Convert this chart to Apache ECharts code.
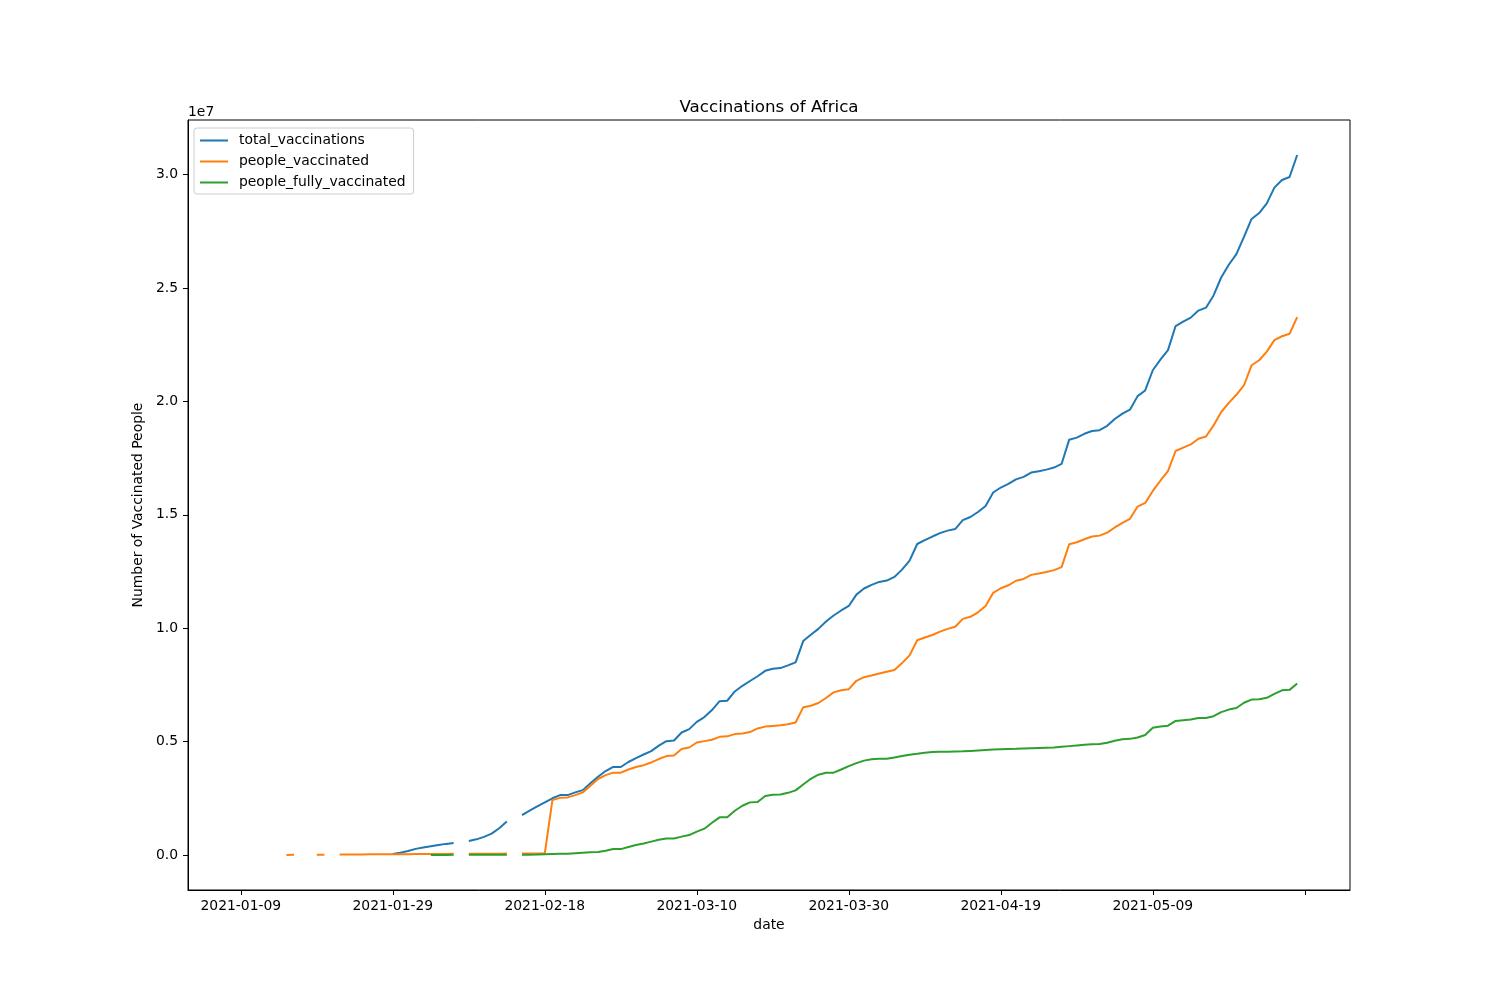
<!DOCTYPE html>
<html>
<head>
<meta charset="utf-8">
<script src="https://cdn.jsdelivr.net/npm/echarts@6/dist/echarts.min.js"></script>
<style>html,body{margin:0;padding:0;background:#fff;}#c{width:1500px;height:1000px;}</style>
</head>
<body>
<div id="c"></div>
<script>
// ---- data (one value per day, starting 2021-01-09; null = missing) ----
const startDate = '2021-01-09';
const nDays = 140;
const seriesNames = ['total_vaccinations', 'people_vaccinated', 'people_fully_vaccinated'];
const tickDates = ['2021-01-09', '2021-01-29', '2021-02-18', '2021-03-10', '2021-03-30', '2021-04-19', '2021-05-09', '2021-05-29'];
const tickLabels = ['2021-01-09', '2021-01-29', '2021-02-18', '2021-03-10', '2021-03-30', '2021-04-19', '2021-05-09', ''];
const yTicks = [0, 5000000, 10000000, 15000000, 20000000, 25000000, 30000000];

const totalVaccinations = [
  null, null, null, null, null, null, null, null, null, null,
  null, null, null, null, null, null, null, null, null, null,
  40000, 100000, 180000, 270000, 330000, 390000, 440000, 490000, 530000, null,
  620000, 690000, 800000, 940000, 1180000, 1480000, null, 1760000, 1960000, 2140000,
  2320000, 2500000, 2640000, 2640000, 2760000, 2860000, 3160000, 3450000, 3700000, 3880000,
  3880000, 4100000, 4270000, 4430000, 4580000, 4820000, 5020000, 5050000, 5400000, 5550000,
  5870000, 6080000, 6390000, 6780000, 6800000, 7210000, 7460000, 7670000, 7880000, 8120000,
  8210000, 8240000, 8360000, 8490000, 9430000, 9710000, 9970000, 10290000, 10560000, 10780000,
  10980000, 11480000, 11750000, 11910000, 12040000, 12100000, 12260000, 12580000, 12980000, 13710000,
  13880000, 14040000, 14190000, 14300000, 14370000, 14760000, 14900000, 15120000, 15390000, 15980000,
  16200000, 16360000, 16560000, 16670000, 16860000, 16920000, 16990000, 17080000, 17240000, 18310000,
  18400000, 18570000, 18690000, 18730000, 18920000, 19220000, 19460000, 19630000, 20230000, 20480000,
  21370000, 21840000, 22260000, 23320000, 23510000, 23690000, 24000000, 24130000, 24670000, 25460000,
  26020000, 26490000, 27250000, 28040000, 28300000, 28730000, 29420000, 29760000, 29890000, 30860000
];
const peopleVaccinated = [
  null, null, null, null, null, null, 5000, 8000, null, null,
  12000, 15000, null, 20000, 22000, 24000, 26000, 28000, 30000, 32000,
  34000, 36000, 38000, 40000, 42000, 44000, 46000, 48000, 50000, null,
  52000, 54000, 56000, 58000, 60000, 62000, null, 64000, 66000, 68000,
  70000, 2420000, 2520000, 2540000, 2640000, 2760000, 3050000, 3350000, 3520000, 3630000,
  3630000, 3770000, 3880000, 3960000, 4080000, 4230000, 4360000, 4390000, 4670000, 4740000,
  4960000, 5020000, 5080000, 5210000, 5230000, 5330000, 5360000, 5420000, 5580000, 5660000,
  5690000, 5720000, 5760000, 5840000, 6510000, 6580000, 6700000, 6920000, 7170000, 7260000,
  7310000, 7680000, 7840000, 7910000, 8000000, 8080000, 8160000, 8460000, 8800000, 9470000,
  9590000, 9700000, 9850000, 9970000, 10060000, 10410000, 10500000, 10700000, 10980000, 11560000,
  11760000, 11890000, 12090000, 12170000, 12350000, 12410000, 12480000, 12560000, 12690000, 13700000,
  13790000, 13920000, 14040000, 14080000, 14210000, 14440000, 14640000, 14820000, 15360000, 15520000,
  16050000, 16500000, 16920000, 17810000, 17960000, 18100000, 18350000, 18450000, 18940000, 19530000,
  19930000, 20290000, 20710000, 21590000, 21810000, 22190000, 22700000, 22870000, 22980000, 23710000
];
const peopleFullyVaccinated = [
  null, null, null, null, null, null, null, null, null, null,
  null, null, null, null, null, null, null, null, null, null,
  null, null, null, null, null, 3000, 4000, 5000, 6000, null,
  7000, 8000, 9000, 10000, 10500, 11000, null, 13000, 16000, 20000,
  30000, 40000, 50000, 60000, 80000, 100000, 120000, 130000, 190000, 260000,
  260000, 350000, 440000, 510000, 590000, 670000, 730000, 730000, 810000, 880000,
  1030000, 1160000, 1420000, 1660000, 1660000, 1950000, 2170000, 2320000, 2340000, 2600000,
  2660000, 2670000, 2740000, 2850000, 3110000, 3360000, 3540000, 3630000, 3630000, 3770000,
  3920000, 4050000, 4160000, 4220000, 4240000, 4240000, 4300000, 4360000, 4420000, 4460000,
  4510000, 4540000, 4550000, 4550000, 4560000, 4570000, 4590000, 4610000, 4630000, 4650000,
  4660000, 4670000, 4680000, 4700000, 4710000, 4720000, 4730000, 4740000, 4770000, 4800000,
  4830000, 4860000, 4880000, 4890000, 4950000, 5040000, 5100000, 5120000, 5180000, 5290000,
  5610000, 5660000, 5700000, 5910000, 5940000, 5970000, 6040000, 6040000, 6120000, 6300000,
  6410000, 6480000, 6710000, 6850000, 6870000, 6930000, 7100000, 7260000, 7280000, 7560000
];

// ---- build ----
const DAY = 86400000;
function parseDate(s) { const p = s.split('-').map(Number); return Date.UTC(p[0], p[1] - 1, p[2]); }
const t0 = parseDate(startDate);
const dates = [];
for (let i = 0; i < nDays; i++) dates.push(t0 + i * DAY);
function pairs(arr) { return arr.map((v, i) => [dates[i], v === null ? '-' : v]); }

const tMin = dates[0], tMax = dates[nDays - 1];
const tPad = (tMax - tMin) * 0.05;
const allVals = [].concat(totalVaccinations, peopleVaccinated, peopleFullyVaccinated).filter(v => v !== null);
const vMin = 0, vMax = Math.max.apply(null, allVals);
const vPad = (vMax - vMin) * 0.05;

const tickTs = tickDates.map(parseDate);
const labelMap = {};
tickTs.forEach((t, i) => { labelMap[t] = tickLabels[i]; });

const FONT = 'DejaVu Sans';
const colors = ['#1f77b4', '#ff7f0e', '#2ca02c'];
const seriesData = [totalVaccinations, peopleVaccinated, peopleFullyVaccinated];

const chart = echarts.init(document.getElementById('c'), null, { renderer: 'canvas' });
chart.setOption({
  animation: false,
  backgroundColor: '#ffffff',
  color: colors,
  title: [
    { text: 'Vaccinations of Africa', left: 769, top: 99, textAlign: 'center', padding: 0,
      textStyle: { fontFamily: FONT, fontSize: 16.7, fontWeight: 'normal', color: '#000' } },
    { text: '1e7', left: 188, top: 105, padding: 0,
      textStyle: { fontFamily: FONT, fontSize: 13.9, fontWeight: 'normal', color: '#000' } }
  ],
  legend: {
    orient: 'vertical', left: 194, top: 128,
    padding: [2, 8, 1, 6], itemGap: 0, itemWidth: 28, itemHeight: 2, icon: 'rect',
    backgroundColor: 'rgba(255,255,255,0.8)', borderColor: '#cccccc', borderWidth: 1, borderRadius: 3,
    textStyle: { fontFamily: FONT, fontSize: 13.9, color: '#000', lineHeight: 21, padding: [0, 0, 0, 6] },
    data: seriesNames
  },
  grid: { left: 188, right: 150, top: 120, bottom: 110, show: true, borderColor: '#000', borderWidth: 1, backgroundColor: 'transparent' },
  xAxis: {
    type: 'value', min: tMin - tPad, max: tMax + tPad,
    name: 'date', nameLocation: 'middle', nameGap: 28,
    nameTextStyle: { fontFamily: FONT, fontSize: 13.9, color: '#000' },
    axisLine: { show: true, onZero: false, lineStyle: { color: '#000', width: 1 } },
    axisTick: { show: true, length: 5, lineStyle: { color: '#000', width: 1 }, customValues: tickTs },
    axisLabel: { customValues: tickTs, margin: 9, fontFamily: FONT, fontSize: 13.9, color: '#000',
      formatter: function (v) { return labelMap[v] !== undefined ? labelMap[v] : ''; } },
    splitLine: { show: false }
  },
  yAxis: {
    type: 'value', min: vMin - vPad, max: vMax + vPad,
    name: 'Number of Vaccinated People', nameLocation: 'middle', nameGap: 40, nameRotate: 90,
    nameTextStyle: { fontFamily: FONT, fontSize: 13.9, color: '#000' },
    axisLine: { show: true, onZero: false, lineStyle: { color: '#000', width: 1 } },
    axisTick: { show: true, length: 5, lineStyle: { color: '#000', width: 1 }, customValues: yTicks },
    axisLabel: { customValues: yTicks, margin: 10, fontFamily: FONT, fontSize: 13.9, color: '#000',
      formatter: function (v) { return (v / 1e7).toFixed(1); } },
    splitLine: { show: false }
  },
  series: seriesNames.map((name, i) => ({
    name: name, type: 'line', data: pairs(seriesData[i]),
    showSymbol: false, symbol: 'none', connectNulls: false,
    lineStyle: { color: colors[i], width: 2 },
    itemStyle: { color: colors[i] }
  }))
});
</script>
</body>
</html>
